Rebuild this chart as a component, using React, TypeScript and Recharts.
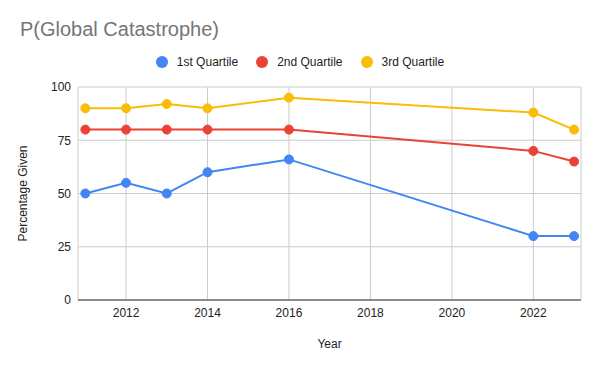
import { CartesianGrid, Label, Line, LineChart, XAxis, YAxis } from "recharts";

const years = [2011, 2012, 2013, 2014, 2016, 2022, 2023];
const firstQuartile = [50, 55, 50, 60, 66, 30, 30];
const secondQuartile = [80, 80, 80, 80, 80, 70, 65];
const thirdQuartile = [90, 90, 92, 90, 95, 88, 80];

const xTicks = [2012, 2014, 2016, 2018, 2020, 2022];
const yTicks = [0, 25, 50, 75, 100];

const series = [
  { key: "q1", name: "1st Quartile", color: "#4285F4" },
  { key: "q2", name: "2nd Quartile", color: "#EA4335" },
  { key: "q3", name: "3rd Quartile", color: "#FBBC04" },
];

const data = years.map((year, i) => ({
  year,
  q1: firstQuartile[i],
  q2: secondQuartile[i],
  q3: thirdQuartile[i],
}));

const font = "'Liberation Sans', Arial, sans-serif";

function ChartLegend() {
  return (
    <div style={{ position: "absolute", left: 0, top: 55, width: 600, display: "flex", justifyContent: "center", gap: 18, fontFamily: font, fontSize: 12, color: "#222" }}>
      {series.map((s) => (
        <div key={s.key} style={{ display: "flex", alignItems: "center" }}>
          <span style={{ width: 12, height: 12, borderRadius: 6, background: s.color, marginRight: 9 }} />
          <span>{s.name}</span>
        </div>
      ))}
    </div>
  );
}

export default function App() {
  return (
    <div style={{ position: "absolute", left: 0, top: 0, width: 600, height: 371, background: "#fff", fontFamily: font }}>
      <div style={{ position: "absolute", left: 20, top: 18, fontSize: 20, color: "#757575" }}>P(Global Catastrophe)</div>
      <ChartLegend />
      <LineChart width={600} height={371} data={data} margin={{ top: 87, right: 19, bottom: 21, left: 0 }}>
        <CartesianGrid stroke="#cccccc" />
        <XAxis
          type="number"
          dataKey="year"
          domain={[2010.82, 2023.17]}
          ticks={xTicks}
          allowDataOverflow
          axisLine={{ stroke: "#333" }}
          tickLine={false}
          tickSize={0}
          tickMargin={8}
          tick={{ fill: "#222", fontSize: 12 }}
          height={50}
        >
          <Label value="Year" position="insideBottom" offset={2} fill="#222" fontSize={12} />
        </XAxis>
        <YAxis
          domain={[0, 100]}
          ticks={yTicks}
          axisLine={false}
          tickLine={false}
          tickSize={0}
          tickMargin={7}
          tick={{ fill: "#222", fontSize: 12 }}
          width={78}
        >
          <Label value="Percentage Given" angle={-90} position="insideLeft" offset={23} fill="#222" fontSize={12} style={{ textAnchor: "middle" }} />
        </YAxis>
        {series.map((s) => (
          <Line
            key={s.key}
            type="linear"
            dataKey={s.key}
            name={s.name}
            stroke={s.color}
            strokeWidth={2}
            dot={{ r: 4.5, fill: s.color, stroke: s.color, strokeWidth: 1 }}
            activeDot={false}
            isAnimationActive={false}
          />
        ))}
      </LineChart>
    </div>
  );
}
